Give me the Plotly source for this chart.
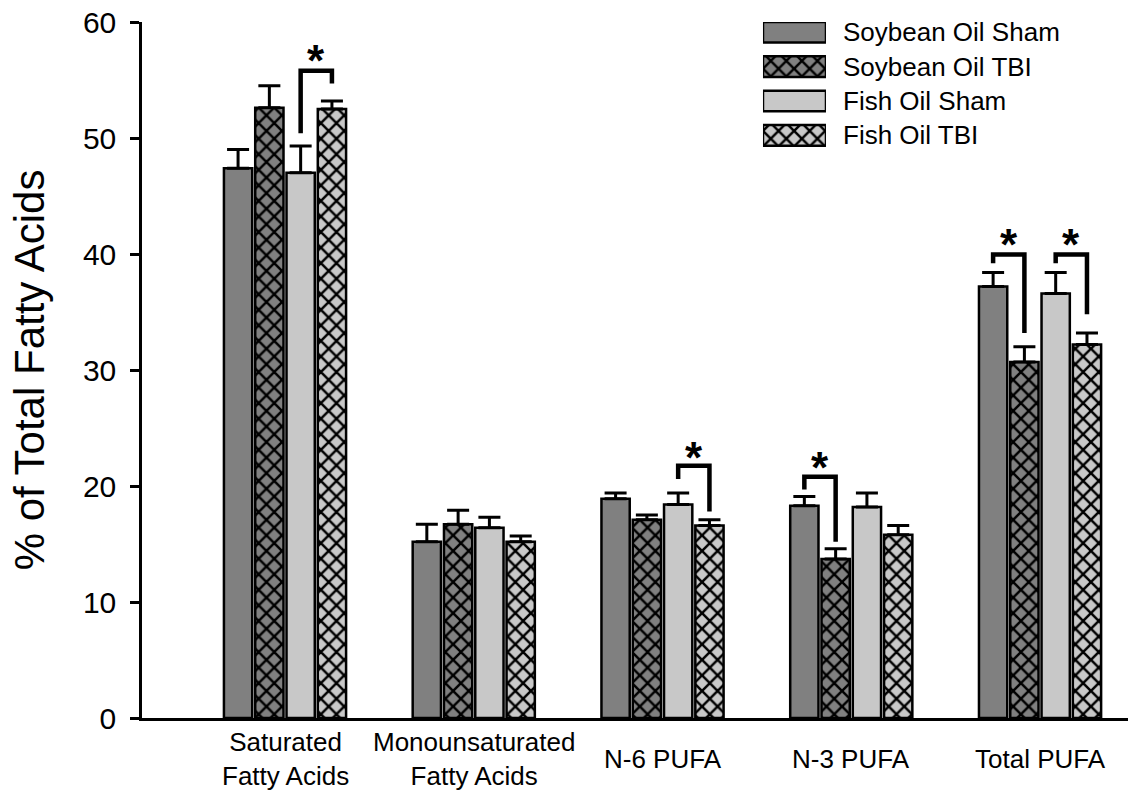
import plotly.graph_objects as go

# ---------------- data ----------------
categories = ["Saturated<br>Fatty Acids", "Monounsaturated<br>Fatty Acids",
              "N-6 PUFA", "N-3 PUFA", "Total PUFA"]
series_names = ["Soybean Oil Sham", "Soybean Oil TBI", "Fish Oil Sham", "Fish Oil TBI"]

so_sham = [47.4, 15.2, 18.9, 18.3, 37.2]
so_tbi = [52.6, 16.7, 17.1, 13.7, 30.7]
fo_sham = [47.0, 16.4, 18.4, 18.2, 36.6]
fo_tbi = [52.5, 15.2, 16.6, 15.8, 32.2]

so_sham_err = [1.6, 1.5, 0.5, 0.8, 1.2]
so_tbi_err = [1.9, 1.2, 0.4, 0.9, 1.3]
fo_sham_err = [2.3, 0.9, 1.0, 1.2, 1.8]
fo_tbi_err = [0.7, 0.5, 0.5, 0.8, 1.0]

y_ticks = [0, 10, 20, 30, 40, 50, 60]

# significance brackets: category, left bar, right bar, heights
br_cat = [0, 2, 3, 4, 4]
br_left_bar = [2, 2, 0, 0, 2]
br_right_bar = [3, 3, 1, 1, 3]
br_left_bottom = [50.4, 20.6, 19.7, 39.2, 39.2]
br_top = [55.8, 21.75, 20.8, 39.95, 39.95]
br_right_bottom = [54.7, 17.8, 15.2, 33.2, 34.8]
star_y = [57.3, 23.1, 22.2, 41.4, 41.4]

# ---------------- style ----------------
FONT = "Liberation Sans, Arial, sans-serif"
DARK = "#808080"
LIGHT = "#c8c8c8"
colors = [DARK, DARK, LIGHT, LIGHT]
shapes = ["", "x", "", "x"]
values = [so_sham, so_tbi, fo_sham, fo_tbi]
errs = [so_sham_err, so_tbi_err, fo_sham_err, fo_tbi_err]

BARGAP = 0.337
GROUPGAP = 0.096
N = len(series_names)
pitch = (1 - BARGAP) / N

fig = go.Figure()
xs = list(range(len(categories)))

for name, v, e, c, s in zip(series_names, values, errs, colors, shapes):
    fig.add_trace(go.Bar(
        x=xs, y=v, name=name, showlegend=False,
        marker=dict(color=c, line=dict(color="black", width=2.5),
                    pattern=dict(shape=s, fgcolor="black", bgcolor=c,
                                 size=11, solidity=0.4, fillmode="replace")),
        error_y=dict(type="data", array=e, arrayminus=[0] * len(e), symmetric=False,
                     color="black", thickness=3, width=11),
    ))

# brackets
for cat, lb, rb, ylb, yt, yrb in zip(br_cat, br_left_bar, br_right_bar,
                                     br_left_bottom, br_top, br_right_bottom):
    xl = cat + (lb - (N - 1) / 2) * pitch
    xr = cat + (rb - (N - 1) / 2) * pitch
    fig.add_trace(go.Scatter(
        x=[xl, xl, xr, xr], y=[ylb, yt, yt, yrb], mode="lines",
        line=dict(color="black", width=4.5), showlegend=False, hoverinfo="skip",
    ))

annotations = []
for cat, lb, rb, sy in zip(br_cat, br_left_bar, br_right_bar, star_y):
    xc = cat + ((lb + rb) / 2 - (N - 1) / 2) * pitch
    annotations.append(dict(x=xc, y=sy, xref="x", yref="y", text="<b>*</b>",
                            showarrow=False, yanchor="middle", yshift=-7,
                            font=dict(family=FONT, size=44, color="black")))

# category labels
for i, lab in enumerate(categories):
    annotations.append(dict(x=i, y=-0.059, xref="x", yref="paper", text=lab,
                            showarrow=False, yanchor="middle", xanchor="center",
                            font=dict(family=FONT, size=26, color="black")))

# legend swatches on a hidden axis
legend_rows = list(range(N))
for r, name, c, s in zip(legend_rows, series_names, colors, shapes):
    fig.add_trace(go.Bar(
        x=[1], y=[r], orientation="h", width=0.6, offset=-0.3, base=0,
        xaxis="x2", yaxis="y2", showlegend=False, hoverinfo="skip",
        marker=dict(color=c, line=dict(color="black", width=2.5),
                    pattern=dict(shape=s, fgcolor="black", bgcolor=c,
                                 size=11, solidity=0.4, fillmode="replace")),
    ))
    annotations.append(dict(x=0.709, y=r, xref="paper", yref="y2", text=name,
                            showarrow=False, xanchor="left", yanchor="middle",
                            font=dict(family=FONT, size=26, color="black")))

fig.update_layout(
    width=1128, height=792,
    margin=dict(l=142, r=0, t=22, b=74),
    plot_bgcolor="white", paper_bgcolor="white",
    barmode="group", bargap=BARGAP, bargroupgap=GROUPGAP,
    showlegend=False,
    annotations=annotations,
    xaxis=dict(range=[-0.7576, 4.466], showticklabels=False, ticks="",
               showline=True, linecolor="black", linewidth=2.5,
               showgrid=False, zeroline=False, fixedrange=True),
    yaxis=dict(range=[0, 60], tickvals=y_ticks, ticks="outside", ticklen=9,
               tickwidth=2.5, tickcolor="black", ticklabelstandoff=8,
               showline=True, linecolor="black", linewidth=2.5,
               showgrid=False, zeroline=False,
               tickfont=dict(family=FONT, size=30, color="black"),
               title=dict(text="% of Total Fatty Acids", standoff=26,
                          font=dict(family=FONT, size=42, color="black"))),
    xaxis2=dict(domain=[0.6298, 0.6937], range=[0, 1], visible=False,
                anchor="y2", fixedrange=True),
    yaxis2=dict(domain=[0.8125, 1.0], range=[3.5, -0.3], visible=False,
                anchor="x2", fixedrange=True),
)

fig.write_html("out.html")
